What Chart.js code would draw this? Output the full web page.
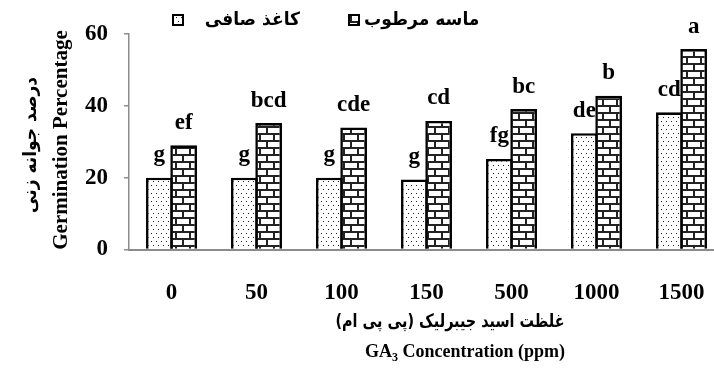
<!DOCTYPE html>
<html>
<head>
<meta charset="utf-8">
<script src="https://cdn.jsdelivr.net/npm/chart.js@4.4.1/dist/chart.umd.min.js"></script>
<style>
  html, body { margin: 0; padding: 0; overflow: hidden; background: #fff; }
  canvas { display: block; }
</style>
</head>
<body>
<canvas id="chart" width="714" height="385" style="width:714px;height:385px"></canvas>
<script>
// GA3 concentrations (ppm)
const categories = ['0', '50', '100', '150', '500', '1000', '1500'];
// germination percentage on filter paper
const filterPaper = [20, 20, 20, 19.5, 25.2, 32.4, 38.2];
// germination percentage in wet sand
const wetSand = [29, 35.2, 34, 35.8, 39.1, 42.8, 55.8];
// mean-comparison letters
const filterPaperLetters = ['g', 'g', 'g', 'g', 'fg', 'de', 'cd'];
const wetSandLetters = ['ef', 'bcd', 'cde', 'cd', 'bc', 'b', 'a'];
const seriesNames = ['کاغذ صافی', 'ماسه مرطوب'];
const yTickValues = [0, 20, 40, 60];
const xTitleLines = ['غلظت اسید جیبرلیک (پی پی ام)', 'GA', '3', ' Concentration (ppm)'];
const yTitleLines = ['درصد جوانه زنی', 'Germination Percentage'];

const SERIF = '"Liberation Serif", "Times New Roman", serif';
const ARABIC = '"DejaVu Sans", sans-serif';
// the plot area runs a little past the right edge of the canvas
const PLOT_RIGHT = 724;

function makeDotPattern() {
  const c = document.createElement('canvas');
  c.width = 5; c.height = 8;
  const g = c.getContext('2d');
  g.fillStyle = '#fff'; g.fillRect(0, 0, 5, 8);
  g.fillStyle = '#222';
  g.fillRect(1, 1, 1, 1);
  g.fillRect(3, 5, 1, 1);
  return g.createPattern(c, 'repeat');
}

function makeBrickPattern() {
  const c = document.createElement('canvas');
  c.width = 14; c.height = 14;
  const g = c.getContext('2d');
  g.fillStyle = '#fff'; g.fillRect(0, 0, 14, 14);
  g.fillStyle = '#222';
  g.fillRect(0, 0, 14, 2);
  g.fillRect(0, 7, 14, 2);
  g.fillRect(0, 0, 2, 7);
  g.fillRect(7, 7, 2, 7);
  return g.createPattern(c, 'repeat');
}

const dotFill = makeDotPattern();
const brickFill = makeBrickPattern();
const fills = [dotFill, brickFill];

// Persian text drawn with a slight horizontal squeeze (DejaVu's Arabic runs wide)
function drawPersian(ctx, text, x, y, size, squeeze, align) {
  ctx.save();
  ctx.translate(x, y);
  ctx.scale(squeeze, 1);
  ctx.font = 'bold ' + size + 'px ' + ARABIC;
  ctx.direction = 'rtl';
  ctx.textAlign = align;
  ctx.textBaseline = 'middle';
  ctx.fillText(text, 0, 0);
  ctx.restore();
}

// stretch the category axis out to PLOT_RIGHT
const widenPlot = {
  id: 'widenPlot',
  afterLayout(chart) {
    const xs = chart.scales.x;
    const area = chart.chartArea;
    area.right = PLOT_RIGHT;
    area.width = area.right - area.left;
    xs.right = PLOT_RIGHT;
    xs.width = xs.right - xs.left;
    xs.configure();
  }
};

// letters above each bar
const letterPlugin = {
  id: 'letters',
  afterDatasetsDraw(chart) {
    const ctx = chart.ctx;
    ctx.save();
    ctx.font = 'bold 23px ' + SERIF;
    ctx.fillStyle = '#000';
    ctx.textAlign = 'center';
    ctx.textBaseline = 'alphabetic';
    [filterPaperLetters, wetSandLetters].forEach((letters, di) => {
      chart.getDatasetMeta(di).data.forEach((bar, i) => {
        ctx.fillText(letters[i], bar.x, bar.y - 16.5);
      });
    });
    ctx.restore();
  }
};

// legend with patterned swatches
const legendPlugin = {
  id: 'patternLegend',
  afterDraw(chart) {
    const ctx = chart.ctx;
    const items = [
      { box: 172, textX: 300, align: 'right' },
      { box: 348, textX: 364, align: 'left' }
    ];
    ctx.save();
    items.forEach((it, i) => {
      ctx.fillStyle = fills[i];
      ctx.fillRect(it.box, 14, 12, 12);
      ctx.strokeStyle = '#000';
      ctx.lineWidth = 2;
      ctx.strokeRect(it.box + 1, 15, 10, 10);
      ctx.fillStyle = '#000';
      drawPersian(ctx, chart.data.datasets[i].label, it.textX, 20, 18, 0.95, it.align);
    });
    ctx.restore();
  }
};

// axis captions in Persian and English
const captionPlugin = {
  id: 'captions',
  afterDraw(chart) {
    const ctx = chart.ctx;
    ctx.save();
    ctx.fillStyle = '#000';
    // vertical captions
    ctx.save();
    ctx.translate(31, 145);
    ctx.rotate(-Math.PI / 2);
    drawPersian(ctx, yTitleLines[0], 0, 0, 18, 0.95, 'center');
    ctx.restore();
    ctx.save();
    ctx.translate(62, 140);
    ctx.rotate(-Math.PI / 2);
    ctx.direction = 'ltr';
    ctx.textAlign = 'center';
    ctx.textBaseline = 'middle';
    ctx.font = 'bold 21px ' + SERIF;
    ctx.fillText(yTitleLines[1], 0, 0);
    ctx.restore();
    // horizontal captions
    drawPersian(ctx, xTitleLines[0], 450, 322, 18, 0.8, 'center');
    ctx.direction = 'ltr';
    ctx.textAlign = 'left';
    ctx.textBaseline = 'alphabetic';
    const big = 'bold 18px ' + SERIF, small = 'bold 12px ' + SERIF;
    ctx.font = big; const w1 = ctx.measureText(xTitleLines[1]).width;
    ctx.font = small; const w2 = ctx.measureText(xTitleLines[2]).width;
    ctx.font = big; const w3 = ctx.measureText(xTitleLines[3]).width;
    let x = 465 - (w1 + w2 + w3) / 2;
    const base = 357;
    ctx.font = big; ctx.fillText(xTitleLines[1], x, base); x += w1;
    ctx.font = small; ctx.fillText(xTitleLines[2], x, base + 4); x += w2;
    ctx.font = big; ctx.fillText(xTitleLines[3], x, base);
    ctx.restore();
  }
};

new Chart(document.getElementById('chart'), {
  type: 'bar',
  data: {
    labels: categories,
    datasets: [
      {
        label: seriesNames[0],
        data: filterPaper,
        backgroundColor: dotFill,
        borderColor: '#000',
        borderWidth: 2.6,
        categoryPercentage: 0.571,
        barPercentage: 1.1
      },
      {
        label: seriesNames[1],
        data: wetSand,
        backgroundColor: brickFill,
        borderColor: '#000',
        borderWidth: 2.6,
        categoryPercentage: 0.571,
        barPercentage: 1.1
      }
    ]
  },
  options: {
    responsive: false,
    animation: false,
    devicePixelRatio: 1,
    layout: { padding: { top: 34, left: 0, right: 0, bottom: 0 } },
    plugins: {
      legend: { display: false },
      tooltip: { enabled: false },
      title: { display: false }
    },
    scales: {
      x: {
        grid: { display: false, drawTicks: false },
        border: { display: true, color: '#8c8c8c', width: 2 },
        ticks: {
          color: '#000',
          font: { family: SERIF, weight: 'bold', size: 23 },
          padding: 30,
          maxRotation: 0,
          autoSkip: false
        },
        afterFit(scale) { scale.height = 385 - 249.5; }
      },
      y: {
        min: 0,
        max: 60,
        afterBuildTicks(scale) { scale.ticks = yTickValues.map(v => ({ value: v })); },
        ticks: {
          color: '#000',
          font: { family: SERIF, weight: 'bold', size: 23 },
          padding: 16
        },
        grid: { display: true, drawOnChartArea: false, drawTicks: true, tickLength: 5, color: '#8c8c8c', lineWidth: 1.5 },
        border: { display: true, color: '#8c8c8c', width: 1.5 },
        afterFit(scale) { scale.width = 129; }
      }
    }
  },
  plugins: [widenPlot, letterPlugin, legendPlugin, captionPlugin]
});
</script>
</body>
</html>
